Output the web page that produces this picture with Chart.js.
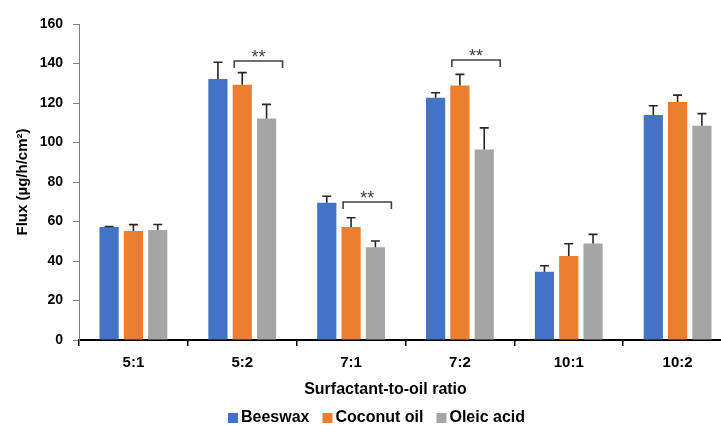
<!DOCTYPE html>
<html>
<head>
<meta charset="utf-8">
<script src="https://cdn.jsdelivr.net/npm/chart.js@4.4.1/dist/chart.umd.min.js"></script>
<style>
  html, body { margin: 0; padding: 0; background: #fff; }
  #wrap { width: 721px; height: 425px; overflow: hidden; position: relative; }
  #fluxChart { position: absolute; left: 0; top: 0; }
</style>
</head>
<body>
<div id="wrap"><canvas id="fluxChart" width="732" height="425"></canvas></div>
<script>
// razões surfactante:óleo
const categories = ['5:1', '5:2', '7:1', '7:2', '10:1', '10:2'];

// fluxo médio (µg/h/cm²) e desvio (só a parte de cima aparece)
const beeswax = [57.2, 132.1, 69.5, 122.7, 34.5, 113.9];
const beeswaxSd = [0.3, 8.5, 3.3, 2.5, 3.1, 4.7];
const coconutOil = [55.2, 129.3, 57.2, 128.8, 42.5, 120.5];
const coconutOilSd = [3.2, 6.1, 4.7, 5.7, 6.2, 3.5];
const oleicAcid = [55.7, 112.2, 47.0, 96.4, 48.9, 108.5];
const oleicAcidSd = [2.8, 7.1, 3.1, 11.0, 4.6, 6.1];

const seriesNames = ['Beeswax', 'Coconut oil', 'Oleic acid'];
const seriesColors = ['#4472C4', '#ED7D31', '#A5A5A5'];

// eixo y
const yMin = 0;
const yMax = 160;
const yStep = 20;

// colchetes de significância (entre coconut e oleic)
const sigCategories = ['5:2', '7:1', '7:2'];
const sigHeights = [141.3, 69.9, 141.8];
const sigLabels = ['**', '**', '**'];

const allValues = [beeswax, coconutOil, oleicAcid];
const allSd = [beeswaxSd, coconutOilSd, oleicAcidSd];

// desenha barras de erro, colchetes, título do eixo x e legenda
const extrasPlugin = {
    id: 'extras',
    afterDatasetsDraw(chart) {
        const ctx = chart.ctx;
        const y = chart.scales.y;
        ctx.save();

        // barras de erro
        ctx.strokeStyle = '#262626';
        ctx.lineWidth = 1.6;
        allSd.forEach((sd, i) => {
            const meta = chart.getDatasetMeta(i);
            meta.data.forEach((bar, j) => {
                const top = y.getPixelForValue(allValues[i][j] + sd[j]);
                const base = y.getPixelForValue(allValues[i][j]);
                ctx.beginPath();
                ctx.moveTo(bar.x, base);
                ctx.lineTo(bar.x, top);
                ctx.moveTo(bar.x - 4.5, top);
                ctx.lineTo(bar.x + 4.5, top);
                ctx.stroke();
            });
        });

        // colchetes
        const coco = chart.getDatasetMeta(1);
        const oleic = chart.getDatasetMeta(2);
        ctx.strokeStyle = '#404040';
        ctx.lineWidth = 1.6;
        ctx.fillStyle = '#404040';
        ctx.font = '18px "Liberation Sans", Arial, sans-serif';
        ctx.textAlign = 'center';
        ctx.textBaseline = 'alphabetic';
        sigCategories.forEach((cat, k) => {
            const idx = categories.indexOf(cat);
            const x1 = coco.data[idx].x - 8;
            const x2 = oleic.data[idx].x + 16;
            const yy = y.getPixelForValue(sigHeights[k]);
            ctx.beginPath();
            ctx.moveTo(x1, yy + 7);
            ctx.lineTo(x1, yy);
            ctx.lineTo(x2, yy);
            ctx.lineTo(x2, yy + 7);
            ctx.stroke();
            ctx.fillText(sigLabels[k], (x1 + x2) / 2, yy + 2);
        });

        // título do eixo x
        ctx.fillStyle = '#000';
        ctx.font = 'bold 16px "Liberation Sans", Arial, sans-serif';
        ctx.textBaseline = 'middle';
        ctx.fillText('Surfactant-to-oil ratio', 385.5, 390);

        // legenda
        ctx.textAlign = 'left';
        const boxW = 10, gap = 3, itemGap = 13;
        const widths = seriesNames.map(n => ctx.measureText(n).width);
        let total = 0;
        widths.forEach(w => { total += boxW + gap + w; });
        total += itemGap * (seriesNames.length - 1);
        let lx = 376.5 - total / 2;
        const ly = 418;
        seriesNames.forEach((name, i) => {
            ctx.fillStyle = seriesColors[i];
            ctx.fillRect(lx, ly - 5, boxW, 10);
            ctx.fillStyle = '#000';
            ctx.fillText(name, lx + boxW + gap, ly);
            lx += boxW + gap + widths[i] + itemGap;
        });

        ctx.restore();
    }
};

const ctx = document.getElementById('fluxChart').getContext('2d');
new Chart(ctx, {
    type: 'bar',
    data: {
        labels: categories,
        datasets: seriesNames.map((name, i) => ({
            label: name,
            data: allValues[i],
            backgroundColor: seriesColors[i],
            borderWidth: 0,
            barPercentage: 0.79,
            categoryPercentage: 0.67
        }))
    },
    options: {
        responsive: false,
        animation: false,
        layout: { padding: { top: 24, right: 0, bottom: 0, left: 0 } },
        plugins: {
            legend: { display: false },
            tooltip: { enabled: false }
        },
        scales: {
            x: {
                grid: {
                    display: true,
                    drawOnChartArea: false,
                    drawTicks: true,
                    tickLength: 6,
                    color: '#000',
                    lineWidth: 1.5,
                    offset: true
                },
                border: { display: true, color: '#000', width: 2 },
                ticks: {
                    color: '#000',
                    padding: 8,
                    font: { family: '"Liberation Sans", Arial, sans-serif', size: 15, weight: 'bold' }
                },
                afterFit(scale) { scale.height = 85; }
            },
            y: {
                min: yMin,
                max: yMax,
                grid: {
                    display: true,
                    drawOnChartArea: false,
                    drawTicks: true,
                    tickLength: 6,
                    color: '#7f7f7f',
                    lineWidth: 1
                },
                border: { display: true, color: '#7f7f7f', width: 1 },
                ticks: {
                    stepSize: yStep,
                    color: '#000',
                    padding: 10,
                    font: { family: '"Liberation Sans", Arial, sans-serif', size: 14, weight: 'bold' }
                },
                title: {
                    display: true,
                    text: 'Flux (µg/h/cm²)',
                    color: '#000',
                    padding: { top: 14, bottom: 0 },
                    font: { family: '"Liberation Sans", Arial, sans-serif', size: 15, weight: 'bold' }
                },
                afterFit(scale) { scale.width = 79; }
            }
        }
    },
    plugins: [extrasPlugin]
});
</script>
</body>
</html>
